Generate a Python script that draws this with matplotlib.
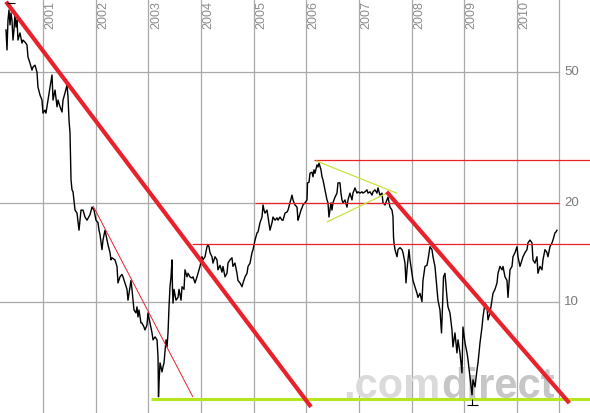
import matplotlib
matplotlib.use('Agg')
import matplotlib.pyplot as plt
from matplotlib.transforms import blended_transform_factory

plt.rcParams['font.family'] = ['Liberation Sans', 'DejaVu Sans']

# price series (decimal year, price)
years = [
    2000.291, 2000.310, 2000.329, 2000.348, 2000.367, 2000.386, 2000.405, 2000.424, 2000.443, 2000.462,
    2000.481, 2000.500, 2000.519, 2000.557, 2000.595, 2000.614, 2000.652, 2000.690, 2000.709, 2000.747,
    2000.785, 2000.804, 2000.842, 2000.880, 2000.899, 2000.937, 2000.975, 2000.994, 2001.032, 2001.051,
    2001.089, 2001.128, 2001.166, 2001.185, 2001.223, 2001.261, 2001.280, 2001.318, 2001.356, 2001.375,
    2001.413, 2001.451, 2001.470, 2001.489, 2001.508, 2001.527, 2001.546, 2001.565, 2001.603, 2001.641,
    2001.679, 2001.717, 2001.755, 2001.793, 2001.831, 2001.888, 2001.926, 2001.964, 2002.002, 2002.040,
    2002.059, 2002.078, 2002.116, 2002.135, 2002.173, 2002.211, 2002.230, 2002.268, 2002.287, 2002.306,
    2002.363, 2002.401, 2002.420, 2002.458, 2002.496, 2002.515, 2002.553, 2002.591, 2002.610, 2002.648,
    2002.667, 2002.686, 2002.705, 2002.724, 2002.762, 2002.781, 2002.800, 2002.819, 2002.857, 2002.876,
    2002.914, 2002.933, 2002.971, 2002.990, 2003.029, 2003.067, 2003.086, 2003.124, 2003.162, 2003.181,
    2003.190, 2003.200, 2003.219, 2003.257, 2003.276, 2003.295, 2003.333, 2003.352, 2003.371, 2003.390,
    2003.409, 2003.428, 2003.447, 2003.456, 2003.466, 2003.485, 2003.523, 2003.561, 2003.580, 2003.618,
    2003.637, 2003.675, 2003.694, 2003.732, 2003.751, 2003.789, 2003.827, 2003.846, 2003.884, 2003.922,
    2003.941, 2003.979, 2004.017, 2004.036, 2004.074, 2004.112, 2004.131, 2004.150, 2004.169, 2004.207,
    2004.226, 2004.264, 2004.302, 2004.321, 2004.359, 2004.397, 2004.416, 2004.454, 2004.492, 2004.511,
    2004.549, 2004.587, 2004.606, 2004.644, 2004.682, 2004.701, 2004.740, 2004.778, 2004.797, 2004.835,
    2004.873, 2004.892, 2004.930, 2004.968, 2004.987, 2005.025, 2005.063, 2005.082, 2005.120, 2005.158,
    2005.177, 2005.196, 2005.215, 2005.253, 2005.272, 2005.310, 2005.348, 2005.367, 2005.405, 2005.443,
    2005.462, 2005.500, 2005.538, 2005.557, 2005.595, 2005.633, 2005.652, 2005.690, 2005.728, 2005.747,
    2005.785, 2005.823, 2005.842, 2005.861, 2005.899, 2005.918, 2005.937, 2005.975, 2006.013, 2006.023,
    2006.051, 2006.070, 2006.108, 2006.127, 2006.146, 2006.165, 2006.203, 2006.222, 2006.241, 2006.279,
    2006.298, 2006.317, 2006.355, 2006.393, 2006.412, 2006.431, 2006.469, 2006.488, 2006.507, 2006.545,
    2006.583, 2006.602, 2006.640, 2006.659, 2006.678, 2006.697, 2006.735, 2006.773, 2006.792, 2006.830,
    2006.868, 2006.887, 2006.925, 2006.963, 2006.982, 2007.020, 2007.058, 2007.077, 2007.115, 2007.153,
    2007.173, 2007.211, 2007.249, 2007.268, 2007.306, 2007.344, 2007.363, 2007.401, 2007.439, 2007.458,
    2007.496, 2007.534, 2007.553, 2007.591, 2007.629, 2007.648, 2007.658, 2007.667, 2007.686, 2007.724,
    2007.743, 2007.781, 2007.819, 2007.838, 2007.876, 2007.895, 2007.914, 2007.952, 2007.971, 2008.009,
    2008.028, 2008.066, 2008.104, 2008.123, 2008.161, 2008.199, 2008.218, 2008.256, 2008.294, 2008.313,
    2008.351, 2008.389, 2008.408, 2008.446, 2008.484, 2008.503, 2008.541, 2008.570, 2008.589, 2008.608,
    2008.636, 2008.674, 2008.693, 2008.731, 2008.769, 2008.788, 2008.826, 2008.864, 2008.883, 2008.921,
    2008.959, 2008.978, 2009.017, 2009.055, 2009.074, 2009.112, 2009.150, 2009.169, 2009.207, 2009.245,
    2009.264, 2009.302, 2009.340, 2009.359, 2009.397, 2009.435, 2009.454, 2009.492, 2009.530, 2009.549,
    2009.587, 2009.625, 2009.644, 2009.682, 2009.720, 2009.739, 2009.777, 2009.815, 2009.834, 2009.872,
    2009.910, 2009.929, 2009.967, 2010.005, 2010.024, 2010.062, 2010.100, 2010.119, 2010.157, 2010.195,
    2010.214, 2010.252, 2010.290, 2010.309, 2010.347, 2010.385, 2010.404, 2010.442, 2010.480, 2010.499,
    2010.537, 2010.575, 2010.594, 2010.632, 2010.670, 2010.689, 2010.727, 2010.746, 2010.765,
]
prices = [
    67.2, 58.4, 72.0, 77.3, 69.6, 75.7, 72.0, 62.6, 67.2, 75.7,
    68.6, 72.0, 62.6, 65.8, 61.3, 62.6, 61.7, 60.5, 55.6, 53.3,
    50.7, 51.8, 52.5, 50.0, 45.0, 42.6, 41.1, 37.5, 38.3, 37.5,
    41.1, 45.0, 49.0, 41.1, 44.1, 39.2, 41.1, 39.2, 37.8, 41.1,
    43.2, 45.7, 42.0, 35.7, 32.6, 23.5, 21.9, 21.6, 19.0, 18.6,
    16.5, 19.0, 19.0, 18.1, 17.7, 18.4, 19.4, 19.0, 17.7, 17.4,
    16.5, 16.0, 14.4, 15.4, 16.5, 15.4, 14.9, 14.1, 13.4, 13.6,
    13.4, 12.8, 11.4, 11.9, 12.1, 11.9, 11.4, 10.9, 10.1, 11.1,
    11.6, 10.9, 10.1, 9.43, 9.24, 9.64, 8.98, 9.43, 8.61, 8.61,
    8.37, 8.20, 8.49, 9.24, 8.61, 8.03, 7.65, 7.81, 7.65, 6.79,
    5.13, 5.66, 6.51, 6.11, 6.33, 6.51, 7.65, 7.28, 8.03, 9.64,
    11.1, 11.9, 13.4, 10.9, 9.9, 10.9, 10.1, 10.3, 10.9, 10.1,
    11.1, 10.9, 12.5, 11.9, 12.2, 11.9, 11.8, 11.9, 11.4, 11.9,
    12.2, 12.8, 13.7, 13.4, 13.7, 14.7, 14.9, 14.7, 14.1, 13.7,
    13.1, 13.7, 13.4, 12.5, 12.9, 12.3, 12.8, 11.9, 12.2, 13.1,
    13.4, 13.6, 12.8, 13.1, 12.2, 11.6, 11.4, 11.1, 11.4, 11.9,
    12.2, 12.8, 13.1, 14.1, 14.4, 15.4, 16.2, 16.3, 17.4, 18.1,
    19.7, 19.0, 18.6, 19.0, 18.1, 16.5, 17.4, 18.1, 17.7, 18.0,
    17.7, 18.1, 17.7, 17.7, 18.6, 18.75, 19.0, 20.0, 21.1, 20.4,
    19.7, 19.4, 17.7, 18.1, 19.0, 19.3, 19.7, 20.0, 20.4, 23.0,
    23.1, 24.6, 24.8, 24.0, 25.2, 24.6, 26.1, 25.7, 26.4, 25.2,
    24.0, 23.5, 21.9, 20.4, 20.0, 18.1, 20.0, 19.0, 20.0, 20.8,
    21.4, 23.0, 23.0, 21.4, 20.4, 20.0, 20.4, 19.4, 20.4, 21.4,
    20.4, 21.4, 22.2, 21.4, 21.6, 21.4, 21.6, 21.4, 21.6, 21.9,
    21.4, 21.6, 21.1, 21.6, 21.9, 21.4, 22.2, 21.1, 21.4, 20.0,
    19.7, 20.4, 20.8, 19.4, 19.0, 18.1, 15.7, 15.1, 14.4, 13.7,
    14.4, 14.6, 14.4, 14.1, 13.1, 11.4, 12.5, 14.4, 13.4, 12.2,
    11.6, 11.1, 10.6, 10.3, 10.6, 10.0, 11.6, 12.8, 12.9, 13.4,
    14.7, 14.4, 13.7, 12.8, 10.9, 10.1, 9.43, 8.03, 9.64, 11.9,
    12.2, 10.3, 9.64, 9.24, 8.20, 7.28, 8.03, 6.98, 7.65, 6.98,
    6.07, 8.37, 7.49, 6.98, 6.65, 5.90, 5.20, 5.78, 5.50, 6.20,
    6.51, 7.49, 8.37, 8.98, 9.9, 9.64, 8.80, 9.24, 10.1, 10.6,
    10.9, 11.4, 12.2, 12.8, 12.5, 12.8, 11.9, 11.6, 10.3, 12.5,
    12.8, 13.7, 14.1, 14.7, 13.7, 12.8, 13.4, 13.7, 14.1, 14.4,
    15.1, 15.4, 15.1, 13.4, 13.1, 13.7, 12.2, 12.8, 12.5, 13.4,
    14.4, 14.1, 13.7, 14.7, 15.1, 15.4, 16.2, 16.3, 16.5,
]

year_ticks = list(range(2001, 2011))
price_ticks = [10, 20, 50]

# drawn trend lines: (year0, price0, year1, price1)
thick_red = [(2000.291, 81.9, 2006.089, 4.78), (2007.528, 21.6, 2011.000, 4.91)]
thin_red = [(2001.951, 19.5, 2003.840, 5.14)]
triangle = [(2006.194, 26.8, 2007.719, 21.4), (2006.399, 17.5, 2007.559, 21.5)]
# horizontal levels: (price, start year)
red_levels = [(27.0, 2006.146), (15.0, 2003.827)]
red_level_20 = (20.0, 2005.025)
support = (5.05, 2003.048)

x_lo, x_hi = 2000.177, 2011.393
y_lo, y_hi = 4.58, 82.9
right_edge = 2010.81

fig = plt.figure(figsize=(5.9, 4.13), dpi=100)
ax = fig.add_axes([0, 0, 1, 1])
ax.set_yscale('log')
ax.set_xlim(x_lo, x_hi)
ax.set_ylim(y_lo, y_hi)
ax.axis('off')

grid_c = '#a9a9a9'
for yr in year_ticks:
    ax.axvline(yr, color=grid_c, lw=0.9, zorder=1)
ax.axvline(right_edge, color=grid_c, lw=0.9, zorder=1)
edge_frac = (right_edge - x_lo) / (x_hi - x_lo)
for p in price_ticks:
    ax.axhline(p, xmin=0, xmax=edge_frac, color=grid_c, lw=0.9, zorder=1)

ty = blended_transform_factory(ax.transAxes, ax.transData)
for p in price_ticks:
    ax.text(edge_frac + 0.008, p, str(p), transform=ty, ha='left', va='center',
            fontsize=9.5, color='#7a7a7a')

tx = blended_transform_factory(ax.transData, ax.transAxes)
for yr in year_ticks:
    ax.text(yr + 0.14, 0.997, str(yr), transform=tx, rotation=90, ha='center', va='top',
            fontsize=9, color='#8c8c8c')

# watermark
ax.text(0.7458, 0.037, '.com', transform=ax.transAxes, ha='right', va='baseline',
        fontsize=30, fontweight='bold', color='#dadada', zorder=2)
ax.text(0.7475, 0.037, 'direct', transform=ax.transAxes, ha='left', va='baseline',
        fontsize=30, fontweight='bold', color='#c6c6c6', zorder=2)

ax.plot(years, prices, color='black', lw=1.0, zorder=3)

red = '#e8212b'
for lvl, start in red_levels:
    ax.hlines(lvl, start, x_hi, color=red, lw=0.9, zorder=4)
ax.hlines(red_level_20[0], red_level_20[1], right_edge, color=red, lw=0.9, zorder=4)
for x0, y0, x1, y1 in thin_red:
    ax.plot([x0, x1], [y0, y1], color=red, lw=0.7, zorder=4)
for x0, y0, x1, y1 in triangle:
    ax.plot([x0, x1], [y0, y1], color='#c6e43c', lw=0.9, zorder=4)
ax.hlines(support[0], support[1], x_hi, color='#b5e61d', lw=2.2, zorder=4)
for x0, y0, x1, y1 in thick_red:
    ax.plot([x0, x1], [y0, y1], color=red, lw=3.0, solid_capstyle='butt', zorder=5)

# high / low markers
ax.hlines(81.3, 2000.304, 2000.462, color='black', lw=0.8, zorder=5)
ax.hlines(4.85, 2009.061, 2009.270, color='black', lw=0.8, zorder=5)
ax.vlines(2009.150, 4.85, 5.05, color='black', lw=0.8, zorder=5)

fig.savefig('out.png', dpi=100)
